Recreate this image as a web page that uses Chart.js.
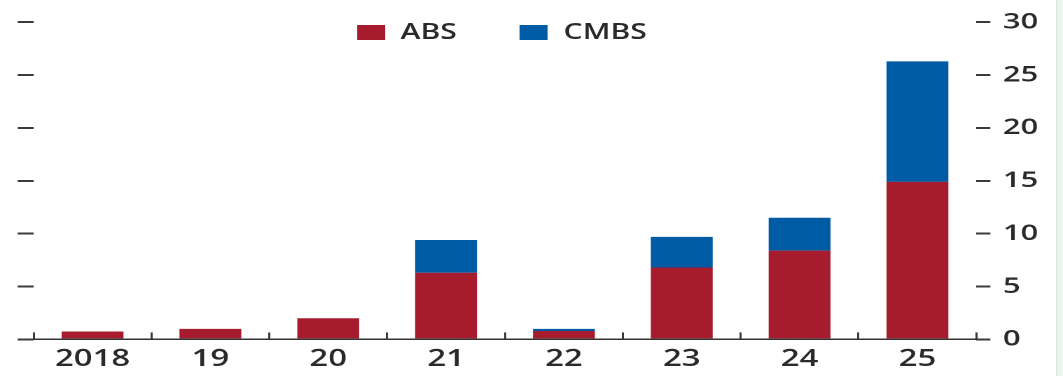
<!DOCTYPE html>
<html>
<head>
<meta charset="utf-8">
<script src="https://cdn.jsdelivr.net/npm/chart.js@4/dist/chart.umd.min.js"></script>
<style>
  html, body { margin: 0; padding: 0; background: #fff; }
  body { width: 1063px; height: 376px; position: relative; overflow: hidden; }
  /* drawing is laid out at a narrower width and widened to the page */
  #wrap { position: absolute; left: 0; top: 0; width: 759px; height: 376px;
          transform: scaleX(1.4005); transform-origin: 0 0; }
  #c { position: absolute; left: 0; top: 0; width: 759px; height: 376px; }
  #legend { position: absolute; top: 0; left: 0; width: 759px; height: 60px;
            font-family: "Open Sans", sans-serif; font-weight: 600; font-size: 21.5px; color: #2a2a2a; }
  .item { position: absolute; top: 18px; height: 28px; line-height: 28px; white-space: nowrap; }
  .swatch { position: absolute; top: 7px; left: 0; width: 19.5px; height: 15px; }
  .label { position: absolute; left: 31px; top: -1px; }
  #edge { position: absolute; left: 1056px; top: 0; width: 7px; height: 376px;
          background: #eaf5ee; border-left: 1px solid #d6e9dc; }
</style>
</head>
<body>
<div id="wrap">
  <canvas id="c" width="759" height="376"></canvas>
  <div id="legend"></div>
</div>
<div id="edge"></div>
<script>
// Issuance by year, stacked
const years = ['2018', '19', '20', '21', '22', '23', '24', '25'];
const absValues = [0.75, 1.0, 2.0, 6.3, 0.8, 6.8, 8.4, 14.9];
const cmbsValues = [0, 0, 0, 3.1, 0.2, 2.9, 3.1, 11.4];
const seriesNames = ['ABS', 'CMBS'];
const seriesColors = ['#a61c2e', '#005ba5'];
const yTicks = [0, 5, 10, 15, 20, 25, 30];

Chart.defaults.font.family = '"Open Sans", sans-serif';
Chart.defaults.font.weight = '600';
Chart.defaults.color = '#2a2a2a';

const series = [absValues, cmbsValues];
const datasets = series.map((values, i) => ({
  label: seriesNames[i],
  data: values,
  backgroundColor: seriesColors[i],
  borderWidth: 0,
  yAxisID: 'y',
  barPercentage: 0.525,
  categoryPercentage: 1.0
}));

const tickGrid = { drawOnChartArea: false, drawTicks: true, color: '#3a3a3a', lineWidth: 2 };

new Chart(document.getElementById('c'), {
  type: 'bar',
  data: { labels: years, datasets },
  options: {
    responsive: false,
    devicePixelRatio: 2,
    animation: false,
    layout: { padding: { left: 12.6, right: 8.7, top: 18.5, bottom: -9.8 } },
    plugins: { legend: { display: false }, tooltip: { enabled: false } },
    scales: {
      x: {
        stacked: true,
        offset: true,
        grid: Object.assign({}, tickGrid, { offset: true, tickLength: -7, lineWidth: 1.5 }),
        border: { display: true, color: '#333', width: 1.5 },
        ticks: { font: { size: 23.5 }, padding: 12.6, maxRotation: 0 }
      },
      y: {
        position: 'right',
        stacked: true,
        min: yTicks[0],
        max: yTicks[yTicks.length - 1],
        afterBuildTicks: s => { s.ticks = yTicks.map(v => ({ value: v })); },
        grid: Object.assign({}, tickGrid, { tickLength: 10 }),
        border: { display: false },
        ticks: { font: { size: 22 }, padding: 9 }
      },
      yl: {
        position: 'left',
        min: yTicks[0],
        max: yTicks[yTicks.length - 1],
        afterBuildTicks: s => { s.ticks = yTicks.map(v => ({ value: v })); },
        grid: Object.assign({}, tickGrid, { tickLength: 11.4 }),
        border: { display: false },
        ticks: { display: false }
      }
    }
  }
});

// Legend row above the bars
const legend = document.getElementById('legend');
const legendLeft = [255, 371.4];
seriesNames.forEach((name, i) => {
  const item = document.createElement('div');
  item.className = 'item';
  item.style.left = legendLeft[i] + 'px';
  const sw = document.createElement('span');
  sw.className = 'swatch';
  sw.style.background = seriesColors[i];
  const tx = document.createElement('span');
  tx.className = 'label';
  tx.textContent = name;
  item.appendChild(sw);
  item.appendChild(tx);
  legend.appendChild(item);
});
</script>
</body>
</html>
